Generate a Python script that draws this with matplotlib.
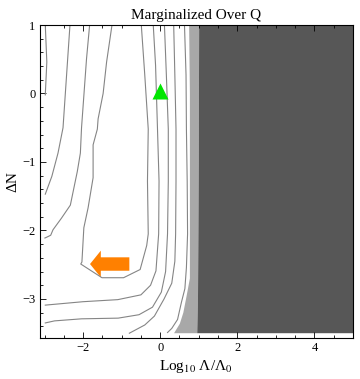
import numpy as np
import matplotlib
matplotlib.use('Agg')
import matplotlib.pyplot as plt
from matplotlib.patches import FancyArrow
from matplotlib.ticker import MultipleLocator

plt.rcParams['font.family'] = ['Liberation Serif', 'DejaVu Serif']
plt.rcParams['mathtext.fontset'] = 'stix'

# contour lines: x = log10(Lambda/Lambda0), y = Delta N
line_a_x = [-2.98, -2.94, -2.98]
line_a_y = [1.0, 0.46, -0.02]

line_b_x = [-2.34, -2.46, -2.52, -2.65, -2.81, -2.98]
line_b_y = [1.0, 0.0, -0.50, -0.87, -1.21, -1.47]

line_c_x = [-1.83, -1.91, -2.04, -2.07, -2.15, -2.22, -2.33, -2.56, -2.78, -2.84, -2.95, -2.99]
line_c_y = [1.0, 0.51, -0.50, -0.87, -1.14, -1.33, -1.63, -1.82, -1.99, -2.07, -2.10, -2.11]

line_d_x = [-1.25, -1.39, -1.48, -1.61, -1.63, -1.74, -1.74, -1.87, -1.98, -2.03, -2.06,
            -1.51, -0.95, -0.52, -0.35, -0.31, -0.33, -0.31, -0.40, -0.49]
line_d_y = [1.0, 0.46, 0.0, -0.37, -0.52, -0.75, -1.23, -1.67, -1.96, -2.46, -2.49,
            -2.69, -2.69, -2.57, -2.22, -2.05, -1.28, -0.52, 0.27, 1.0]

line_e_x = [-0.18, -0.12, -0.07, -0.03, -0.04, -0.11, -0.25, -0.50, -1.10, -2.00, -2.98]
line_e_y = [1.0, 0.41, -0.52, -1.28, -2.05, -2.59, -2.80, -2.94, -3.01, -3.04, -3.09]

line_f_x = [0.11, 0.16, 0.21, 0.21, 0.19, 0.14, 0.03, -0.20, -0.55, -1.09, -2.04, -2.74, -2.98]
line_f_y = [1.0, 0.27, -0.52, -1.28, -2.05, -2.60, -2.90, -3.12, -3.23, -3.28, -3.29, -3.32, -3.35]

line_g_x = [0.35, 0.38, 0.41, 0.41, 0.40, 0.38, 0.30, 0.10, -0.15, -0.40, -0.80]
line_g_y = [1.0, 0.27, -0.52, -1.28, -2.05, -2.45, -2.77, -3.00, -3.25, -3.38, -3.50]

line_h_x = [0.63, 0.67, 0.68, 0.70, 0.71, 0.68, 0.64, 0.55, 0.45, 0.30, 0.19]
line_h_y = [1.0, 0.27, -0.52, -1.28, -2.05, -2.54, -2.85, -3.05, -3.30, -3.43, -3.49]

contours = [(line_a_x, line_a_y), (line_b_x, line_b_y), (line_c_x, line_c_y),
            (line_d_x, line_d_y), (line_e_x, line_e_y), (line_f_x, line_f_y),
            (line_g_x, line_g_y), (line_h_x, line_h_y)]

# excluded regions
light_edge_x = [0.75, 0.77, 0.77, 0.77, 0.68, 0.60, 0.51, 0.36]
light_edge_y = [1.0, 0.0, -2.05, -2.70, -2.97, -3.20, -3.36, -3.50]
dark_edge_x = [1.01, 1.00, 0.99, 0.98, 0.96]
dark_edge_y = [1.0, -1.0, -2.05, -3.0, -3.5]
x_max, y_min, y_max = 5.0, -3.5, 1.0

# markers
obs_x, obs_y = 0.0, 0.04
arrow_tail_x, arrow_tip_x, arrow_y = -0.80, -1.82, -2.49

fig = plt.figure(figsize=(3.6, 3.79), dpi=100)
ax = fig.add_axes([39.5 / 360, 41 / 379, 313.5 / 360, 313 / 379])

ax.fill(np.r_[light_edge_x, dark_edge_x[::-1]], np.r_[light_edge_y, dark_edge_y[::-1]],
        color='#a8a8a8', lw=0)
ax.fill(np.r_[dark_edge_x, x_max, x_max], np.r_[dark_edge_y, y_min, y_max],
        color='#575757', lw=0)

for xs, ys in contours:
    ax.plot(xs, ys, color='#858585', lw=0.8)

ax.plot(obs_x, obs_y, marker='^', color='#00e600', ms=12, mec='none')
ax.add_patch(FancyArrow(arrow_tail_x, arrow_y, arrow_tip_x - arrow_tail_x, 0,
                        width=0.196, head_width=0.39, head_length=0.28,
                        length_includes_head=True, color='#ff8000', lw=0))

ax.set_xlim(-3.13, 5.0)
ax.set_ylim(-3.57, 1.0)
ax.xaxis.set_major_locator(MultipleLocator(2))
ax.xaxis.set_minor_locator(MultipleLocator(0.5))
ax.yaxis.set_major_locator(MultipleLocator(1))
ax.yaxis.set_minor_locator(MultipleLocator(0.2))
ax.tick_params(which='both', direction='in', top=True, right=False, width=0.6,
               labelsize=9, pad=3)
ax.tick_params(which='major', length=4.3)
ax.tick_params(which='minor', length=2.2)
for s in ax.spines.values():
    s.set_linewidth(0.8)

ax.set_title('Marginalized Over Q', fontsize=11, pad=4)
ax.set_xlabel('Log$_{10}$ Λ/Λ$_0$', fontsize=11, labelpad=3)
ax.set_ylabel('ΔN', fontsize=11, labelpad=2)

plt.savefig('out.png', dpi=100)
